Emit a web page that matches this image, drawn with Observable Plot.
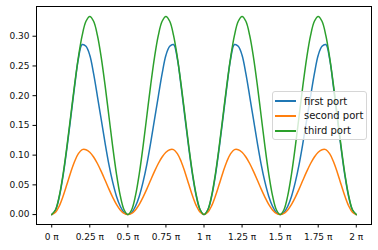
<!DOCTYPE html>
<html>
<head>
<meta charset="utf-8">
<script src="https://cdn.jsdelivr.net/npm/d3@7"></script>
<script src="https://cdn.jsdelivr.net/npm/@observablehq/plot@0.6"></script>
<style>
  html, body { margin: 0; padding: 0; background: #fff; }
  #wrap { position: relative; width: 378px; height: 250px; font-family: "DejaVu Sans", sans-serif; }
  #legend { position: absolute; left: 272px; top: 91px; width: 93px; height: 47px;
    border: 1px solid #d6d6d6; border-radius: 3px; background: rgba(255,255,255,0.8);
    font-size: 10px; color: #111; }
  .row { position: absolute; left: 2px; height: 14px; display: flex; align-items: center; }
  .sw { width: 21px; height: 2px; margin-right: 8px; }
</style>
</head>
<body>
<div id="wrap"></div>
<script>
// x positions in units of pi
const xPi = [0,0.025,0.05,0.075,0.1,0.125,0.15,0.175,0.2,0.225,0.25,0.275,0.3,0.325,0.35,0.375,0.4,0.425,0.45,0.475,
  0.5,0.525,0.55,0.575,0.6,0.625,0.65,0.675,0.7,0.725,0.75,0.775,0.8,0.825,0.85,0.875,0.9,0.925,0.95,0.975,
  1,1.025,1.05,1.075,1.1,1.125,1.15,1.175,1.2,1.225,1.25,1.275,1.3,1.325,1.35,1.375,1.4,1.425,1.45,1.475,
  1.5,1.525,1.55,1.575,1.6,1.625,1.65,1.675,1.7,1.725,1.75,1.775,1.8,1.825,1.85,1.875,1.9,1.925,1.95,1.975,2];

const firstPort = [
  0,.0075,.030,.066,.112,.163,.215,.262,.286,.283,.268,.237,.199,.160,.121,.085,.055,.031,.014,.0035,
  0,.0035,.014,.031,.055,.085,.121,.160,.199,.237,.268,.283,.286,.262,.215,.163,.112,.066,.030,.0075,
  0,.0075,.030,.066,.112,.163,.215,.262,.286,.283,.268,.237,.199,.160,.121,.085,.055,.031,.014,.0035,
  0,.0035,.014,.031,.055,.085,.121,.160,.199,.237,.268,.283,.286,.262,.215,.163,.112,.066,.030,.0075,
  0];

const secondPort = [
  0,.0038,.0146,.0311,.0509,.0713,.0893,.1026,.1093,.1092,.1049,.0969,.0859,.0726,.0581,.0432,.0294,.0172,.0079,.0020,
  0,.0020,.0079,.0172,.0294,.0432,.0581,.0726,.0859,.0969,.1049,.1092,.1093,.1026,.0893,.0713,.0509,.0311,.0146,.0038,
  0,.0038,.0146,.0311,.0509,.0713,.0893,.1026,.1093,.1092,.1049,.0969,.0859,.0726,.0581,.0432,.0294,.0172,.0079,.0020,
  0,.0020,.0079,.0172,.0294,.0432,.0581,.0726,.0859,.0969,.1049,.1092,.1093,.1026,.0893,.0713,.0509,.0311,.0146,.0038,
  0];

const thirdPort = [
  0,.0082,.0318,.0687,.1152,.1667,.2182,.2646,.3015,.3252,.3333,.3252,.3015,.2646,.2182,.1667,.1152,.0687,.0318,.0082,
  0,.0082,.0318,.0687,.1152,.1667,.2182,.2646,.3015,.3252,.3333,.3252,.3015,.2646,.2182,.1667,.1152,.0687,.0318,.0082,
  0,.0082,.0318,.0687,.1152,.1667,.2182,.2646,.3015,.3252,.3333,.3252,.3015,.2646,.2182,.1667,.1152,.0687,.0318,.0082,
  0,.0082,.0318,.0687,.1152,.1667,.2182,.2646,.3015,.3252,.3333,.3252,.3015,.2646,.2182,.1667,.1152,.0687,.0318,.0082,
  0];

const seriesNames = ["first port", "second port", "third port"];
const seriesColors = ["#1f77b4", "#ff7f0e", "#2ca02c"];
const xTicks = [0, 0.25, 0.5, 0.75, 1, 1.25, 1.5, 1.75, 2];
const xTickLabels = ["0 π", "0.25 π", "0.5 π", "0.75 π", "1 π", "1.25 π", "1.5 π", "1.75 π", "2 π"];
const yTicks = [0, 0.05, 0.10, 0.15, 0.20, 0.25, 0.30];

const allSeries = [firstPort, secondPort, thirdPort];
const rows = [];
allSeries.forEach((s, i) => s.forEach((v, j) => rows.push({x: xPi[j], y: v, series: seriesNames[i]})));

const chart = Plot.plot({
  width: 378,
  height: 250,
  marginLeft: 36,
  marginRight: 7,
  marginTop: 6,
  marginBottom: 26,
  style: {fontFamily: "DejaVu Sans, sans-serif", fontSize: "9px", color: "#111", background: "#fff"},
  x: {domain: [-0.1, 2.1]},
  y: {domain: [-0.016667, 0.35]},
  color: {domain: seriesNames, range: seriesColors},
  marks: [
    Plot.axisX({ticks: xTicks, tickFormat: (d) => xTickLabels[xTicks.indexOf(d)], tickSize: 3.5, tickPadding: 5.5, label: null, stroke: "#000", fontSize: 9}),
    Plot.axisY({ticks: yTicks, tickFormat: d3.format(".2f"), tickSize: 3.5, tickPadding: 3.5, label: null, stroke: "#000", fontSize: 9}),
    Plot.line(rows, {x: "x", y: "y", z: "series", stroke: "series", strokeWidth: 1.5, curve: "catmull-rom"}),
    Plot.frame({stroke: "#000", strokeWidth: 1})
  ]
});

const wrap = document.getElementById("wrap");
wrap.appendChild(chart);

const legend = document.createElement("div");
legend.id = "legend";
seriesNames.forEach((n, i) => {
  const r = document.createElement("div");
  r.className = "row";
  r.style.top = (2 + i * 14.9) + "px";
  const sw = document.createElement("div");
  sw.className = "sw";
  sw.style.background = seriesColors[i];
  const t = document.createElement("span");
  t.textContent = n;
  r.appendChild(sw);
  r.appendChild(t);
  legend.appendChild(r);
});
wrap.appendChild(legend);
</script>
</body>
</html>
